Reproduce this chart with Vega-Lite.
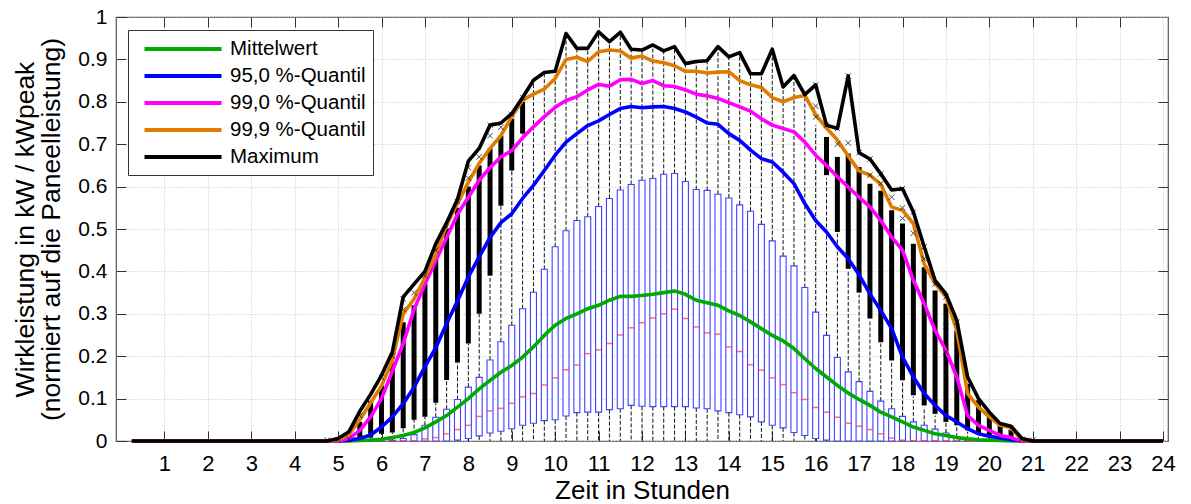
{
  "$schema": "https://vega.github.io/schema/vega-lite/v6.json",
  "width": 1052,
  "height": 424,
  "autosize": {"type": "none"},
  "padding": {"left": 116, "top": 17, "right": 23, "bottom": 63},
  "background": "white",
  "config": {
    "font": "Liberation Sans",
    "view": {"stroke": "#555555", "strokeWidth": 1.2},
    "axis": {
      "labelFont": "Liberation Sans",
      "titleFont": "Liberation Sans",
      "labelColor": "#000000",
      "titleColor": "#000000",
      "titleFontWeight": "normal",
      "domain": false,
      "tickColor": "#333333",
      "tickWidth": 1,
      "gridColor": "#c4c4c4",
      "gridDash": [1, 2],
      "gridWidth": 1
    },
    "legend": {"labelFont": "Liberation Sans"}
  },
  "datasets": {
    "kennlinien": [
      {"t": 0.25, "mittel": 0, "q950": 0, "q990": 0, "q999": 0, "qmax": 0},
      {"t": 4.75, "mittel": 0, "q950": 0, "q990": 0, "q999": 0, "qmax": 0},
      {"t": 5.0, "mittel": 0, "q950": 0, "q990": 0, "q999": 0.002, "qmax": 0.006},
      {"t": 5.25, "mittel": 0, "q950": 0.002, "q990": 0.006, "q999": 0.015, "qmax": 0.022},
      {"t": 5.5, "mittel": 0.001, "q950": 0.006, "q990": 0.025, "q999": 0.05, "qmax": 0.07},
      {"t": 5.75, "mittel": 0.002, "q950": 0.014, "q990": 0.057, "q999": 0.09, "qmax": 0.11},
      {"t": 6.0, "mittel": 0.004, "q950": 0.033, "q990": 0.1, "q999": 0.13, "qmax": 0.155},
      {"t": 6.25, "mittel": 0.008, "q950": 0.057, "q990": 0.165, "q999": 0.19, "qmax": 0.21},
      {"t": 6.5, "mittel": 0.013, "q950": 0.088, "q990": 0.23, "q999": 0.3, "qmax": 0.34},
      {"t": 6.75, "mittel": 0.02, "q950": 0.127, "q990": 0.31, "q999": 0.335, "qmax": 0.37},
      {"t": 7.0, "mittel": 0.031, "q950": 0.175, "q990": 0.37, "q999": 0.385, "qmax": 0.4},
      {"t": 7.25, "mittel": 0.045, "q950": 0.22, "q990": 0.425, "q999": 0.44, "qmax": 0.465},
      {"t": 7.5, "mittel": 0.06, "q950": 0.277, "q990": 0.48, "q999": 0.51, "qmax": 0.515},
      {"t": 7.75, "mittel": 0.08, "q950": 0.33, "q990": 0.535, "q999": 0.56, "qmax": 0.57},
      {"t": 8.0, "mittel": 0.1, "q950": 0.387, "q990": 0.575, "q999": 0.61, "qmax": 0.66},
      {"t": 8.25, "mittel": 0.123, "q950": 0.434, "q990": 0.615, "q999": 0.655, "qmax": 0.69},
      {"t": 8.5, "mittel": 0.143, "q950": 0.48, "q990": 0.645, "q999": 0.69, "qmax": 0.745},
      {"t": 8.75, "mittel": 0.162, "q950": 0.515, "q990": 0.67, "q999": 0.72, "qmax": 0.75},
      {"t": 9.0, "mittel": 0.178, "q950": 0.536, "q990": 0.685, "q999": 0.765, "qmax": 0.772},
      {"t": 9.25, "mittel": 0.198, "q950": 0.572, "q990": 0.715, "q999": 0.804, "qmax": 0.81},
      {"t": 9.5, "mittel": 0.222, "q950": 0.603, "q990": 0.741, "q999": 0.818, "qmax": 0.851},
      {"t": 9.75, "mittel": 0.249, "q950": 0.638, "q990": 0.765, "q999": 0.83, "qmax": 0.869},
      {"t": 10.0, "mittel": 0.273, "q950": 0.674, "q990": 0.787, "q999": 0.855, "qmax": 0.872},
      {"t": 10.25, "mittel": 0.289, "q950": 0.705, "q990": 0.803, "q999": 0.9, "qmax": 0.961},
      {"t": 10.5, "mittel": 0.3, "q950": 0.725, "q990": 0.812, "q999": 0.905, "qmax": 0.926},
      {"t": 10.75, "mittel": 0.312, "q950": 0.744, "q990": 0.828, "q999": 0.895, "qmax": 0.926},
      {"t": 11.0, "mittel": 0.32, "q950": 0.755, "q990": 0.841, "q999": 0.918, "qmax": 0.965},
      {"t": 11.25, "mittel": 0.332, "q950": 0.77, "q990": 0.837, "q999": 0.922, "qmax": 0.942},
      {"t": 11.5, "mittel": 0.341, "q950": 0.784, "q990": 0.852, "q999": 0.92, "qmax": 0.964},
      {"t": 11.75, "mittel": 0.341, "q950": 0.789, "q990": 0.853, "q999": 0.903, "qmax": 0.924},
      {"t": 12.0, "mittel": 0.343, "q950": 0.786, "q990": 0.843, "q999": 0.908, "qmax": 0.922},
      {"t": 12.25, "mittel": 0.346, "q950": 0.788, "q990": 0.85, "q999": 0.896, "qmax": 0.934},
      {"t": 12.5, "mittel": 0.35, "q950": 0.789, "q990": 0.838, "q999": 0.892, "qmax": 0.92},
      {"t": 12.75, "mittel": 0.354, "q950": 0.784, "q990": 0.836, "q999": 0.885, "qmax": 0.93},
      {"t": 13.0, "mittel": 0.346, "q950": 0.776, "q990": 0.828, "q999": 0.872, "qmax": 0.89},
      {"t": 13.25, "mittel": 0.332, "q950": 0.764, "q990": 0.818, "q999": 0.872, "qmax": 0.895},
      {"t": 13.5, "mittel": 0.326, "q950": 0.75, "q990": 0.814, "q999": 0.868, "qmax": 0.897},
      {"t": 13.75, "mittel": 0.32, "q950": 0.747, "q990": 0.808, "q999": 0.87, "qmax": 0.93},
      {"t": 14.0, "mittel": 0.307, "q950": 0.725, "q990": 0.798, "q999": 0.871, "qmax": 0.906},
      {"t": 14.25, "mittel": 0.296, "q950": 0.709, "q990": 0.788, "q999": 0.85, "qmax": 0.916},
      {"t": 14.5, "mittel": 0.281, "q950": 0.686, "q990": 0.778, "q999": 0.84, "qmax": 0.866},
      {"t": 14.75, "mittel": 0.265, "q950": 0.666, "q990": 0.76, "q999": 0.834, "qmax": 0.866},
      {"t": 15.0, "mittel": 0.249, "q950": 0.658, "q990": 0.745, "q999": 0.81, "qmax": 0.924},
      {"t": 15.25, "mittel": 0.236, "q950": 0.634, "q990": 0.737, "q999": 0.8, "qmax": 0.835},
      {"t": 15.5, "mittel": 0.218, "q950": 0.607, "q990": 0.729, "q999": 0.81, "qmax": 0.862},
      {"t": 15.75, "mittel": 0.194, "q950": 0.56, "q990": 0.705, "q999": 0.815, "qmax": 0.817},
      {"t": 16.0, "mittel": 0.171, "q950": 0.52, "q990": 0.674, "q999": 0.77, "qmax": 0.84},
      {"t": 16.25, "mittel": 0.151, "q950": 0.493, "q990": 0.65, "q999": 0.738, "qmax": 0.745},
      {"t": 16.5, "mittel": 0.131, "q950": 0.458, "q990": 0.623, "q999": 0.71, "qmax": 0.737},
      {"t": 16.75, "mittel": 0.113, "q950": 0.43, "q990": 0.599, "q999": 0.672, "qmax": 0.861},
      {"t": 17.0, "mittel": 0.098, "q950": 0.392, "q990": 0.575, "q999": 0.637, "qmax": 0.68},
      {"t": 17.25, "mittel": 0.084, "q950": 0.347, "q990": 0.552, "q999": 0.627, "qmax": 0.665},
      {"t": 17.5, "mittel": 0.068, "q950": 0.308, "q990": 0.52, "q999": 0.605, "qmax": 0.63},
      {"t": 17.75, "mittel": 0.057, "q950": 0.265, "q990": 0.481, "q999": 0.552, "qmax": 0.592},
      {"t": 18.0, "mittel": 0.045, "q950": 0.198, "q990": 0.45, "q999": 0.544, "qmax": 0.595},
      {"t": 18.25, "mittel": 0.033, "q950": 0.151, "q990": 0.379, "q999": 0.513, "qmax": 0.54},
      {"t": 18.5, "mittel": 0.025, "q950": 0.112, "q990": 0.324, "q999": 0.418, "qmax": 0.458},
      {"t": 18.75, "mittel": 0.017, "q950": 0.084, "q990": 0.261, "q999": 0.371, "qmax": 0.379},
      {"t": 19.0, "mittel": 0.013, "q950": 0.06, "q990": 0.214, "q999": 0.34, "qmax": 0.347},
      {"t": 19.25, "mittel": 0.008, "q950": 0.045, "q990": 0.151, "q999": 0.261, "qmax": 0.285},
      {"t": 19.5, "mittel": 0.005, "q950": 0.029, "q990": 0.06, "q999": 0.112, "qmax": 0.151},
      {"t": 19.75, "mittel": 0.003, "q950": 0.017, "q990": 0.037, "q999": 0.08, "qmax": 0.1},
      {"t": 20.0, "mittel": 0.002, "q950": 0.011, "q990": 0.025, "q999": 0.057, "qmax": 0.068},
      {"t": 20.25, "mittel": 0.001, "q950": 0.007, "q990": 0.013, "q999": 0.037, "qmax": 0.041},
      {"t": 20.5, "mittel": 0, "q950": 0.003, "q990": 0.008, "q999": 0.031, "qmax": 0.035},
      {"t": 20.75, "mittel": 0, "q950": 0, "q990": 0, "q999": 0.003, "qmax": 0.006},
      {"t": 21.0, "mittel": 0, "q950": 0, "q990": 0, "q999": 0, "qmax": 0},
      {"t": 24.0, "mittel": 0, "q950": 0, "q990": 0, "q999": 0, "qmax": 0}
    ],
    "boxen": [
      {"t": 5.5, "lo": 0, "med": 0, "hi": 0, "wh": 0.005, "ol": 0.005, "oh": 0.045},
      {"t": 5.75, "lo": 0, "med": 0, "hi": 0, "wh": 0.008, "ol": 0.008, "oh": 0.095},
      {"t": 6.0, "lo": 0, "med": 0, "hi": 0, "wh": 0.017, "ol": 0.017, "oh": 0.13},
      {"t": 6.25, "lo": 0, "med": 0, "hi": 0.002, "wh": 0.02, "ol": 0.02, "oh": 0.185},
      {"t": 6.5, "lo": 0, "med": 0, "hi": 0.006, "wh": 0.03, "ol": 0.03, "oh": 0.28},
      {"t": 6.75, "lo": 0, "med": 0, "hi": 0.015, "wh": 0.05, "ol": 0.05, "oh": 0.32},
      {"t": 7.0, "lo": 0, "med": 0.005, "hi": 0.037, "wh": 0.057, "ol": 0.057, "oh": 0.37},
      {"t": 7.25, "lo": 0, "med": 0.008, "hi": 0.056, "wh": 0.09, "ol": 0.09, "oh": 0.43},
      {"t": 7.5, "lo": 0, "med": 0.017, "hi": 0.075, "wh": 0.144, "ol": 0.144, "oh": 0.5},
      {"t": 7.75, "lo": 0.002, "med": 0.027, "hi": 0.098, "wh": 0.185, "ol": 0.185, "oh": 0.55},
      {"t": 8.0, "lo": 0.006, "med": 0.037, "hi": 0.127, "wh": 0.23, "ol": 0.23, "oh": 0.6},
      {"t": 8.25, "lo": 0.012, "med": 0.058, "hi": 0.15, "wh": 0.3, "ol": 0.3, "oh": 0.65},
      {"t": 8.5, "lo": 0.019, "med": 0.071, "hi": 0.191, "wh": 0.39, "ol": 0.39, "oh": 0.69},
      {"t": 8.75, "lo": 0.023, "med": 0.077, "hi": 0.234, "wh": 0.555, "ol": 0.555, "oh": 0.72},
      {"t": 9.0, "lo": 0.029, "med": 0.089, "hi": 0.273, "wh": 0.638, "ol": 0.638, "oh": 0.76},
      {"t": 9.25, "lo": 0.037, "med": 0.104, "hi": 0.312, "wh": 0.725, "ol": 0.725, "oh": 0.8},
      {"t": 9.5, "lo": 0.042, "med": 0.112, "hi": 0.351, "wh": 0.851},
      {"t": 9.75, "lo": 0.048, "med": 0.132, "hi": 0.405, "wh": 0.869},
      {"t": 10.0, "lo": 0.05, "med": 0.149, "hi": 0.458, "wh": 0.872},
      {"t": 10.25, "lo": 0.059, "med": 0.168, "hi": 0.496, "wh": 0.961},
      {"t": 10.5, "lo": 0.067, "med": 0.179, "hi": 0.52, "wh": 0.926},
      {"t": 10.75, "lo": 0.068, "med": 0.206, "hi": 0.529, "wh": 0.926},
      {"t": 11.0, "lo": 0.068, "med": 0.215, "hi": 0.553, "wh": 0.965},
      {"t": 11.25, "lo": 0.074, "med": 0.23, "hi": 0.572, "wh": 0.942},
      {"t": 11.5, "lo": 0.076, "med": 0.25, "hi": 0.592, "wh": 0.964},
      {"t": 11.75, "lo": 0.084, "med": 0.267, "hi": 0.605, "wh": 0.924},
      {"t": 12.0, "lo": 0.082, "med": 0.279, "hi": 0.615, "wh": 0.922},
      {"t": 12.25, "lo": 0.081, "med": 0.29, "hi": 0.619, "wh": 0.934},
      {"t": 12.5, "lo": 0.081, "med": 0.3, "hi": 0.629, "wh": 0.92},
      {"t": 12.75, "lo": 0.081, "med": 0.311, "hi": 0.631, "wh": 0.93},
      {"t": 13.0, "lo": 0.081, "med": 0.289, "hi": 0.612, "wh": 0.89},
      {"t": 13.25, "lo": 0.078, "med": 0.269, "hi": 0.593, "wh": 0.895},
      {"t": 13.5, "lo": 0.076, "med": 0.255, "hi": 0.591, "wh": 0.897},
      {"t": 13.75, "lo": 0.071, "med": 0.252, "hi": 0.582, "wh": 0.93},
      {"t": 14.0, "lo": 0.067, "med": 0.222, "hi": 0.573, "wh": 0.906},
      {"t": 14.25, "lo": 0.062, "med": 0.211, "hi": 0.557, "wh": 0.916},
      {"t": 14.5, "lo": 0.057, "med": 0.18, "hi": 0.542, "wh": 0.866},
      {"t": 14.75, "lo": 0.045, "med": 0.167, "hi": 0.511, "wh": 0.866},
      {"t": 15.0, "lo": 0.037, "med": 0.149, "hi": 0.472, "wh": 0.924},
      {"t": 15.25, "lo": 0.031, "med": 0.133, "hi": 0.436, "wh": 0.835},
      {"t": 15.5, "lo": 0.02, "med": 0.114, "hi": 0.413, "wh": 0.862},
      {"t": 15.75, "lo": 0.013, "med": 0.098, "hi": 0.362, "wh": 0.817},
      {"t": 16.0, "lo": 0.006, "med": 0.079, "hi": 0.304, "wh": 0.745},
      {"t": 16.25, "lo": 0.002, "med": 0.068, "hi": 0.249, "wh": 0.62, "ol": 0.627, "oh": 0.717},
      {"t": 16.5, "lo": 0, "med": 0.056, "hi": 0.197, "wh": 0.49, "ol": 0.493, "oh": 0.67},
      {"t": 16.75, "lo": 0, "med": 0.042, "hi": 0.163, "wh": 0.4, "ol": 0.406, "oh": 0.678},
      {"t": 17.0, "lo": 0, "med": 0.035, "hi": 0.14, "wh": 0.345, "ol": 0.35, "oh": 0.646},
      {"t": 17.25, "lo": 0, "med": 0.027, "hi": 0.117, "wh": 0.285, "ol": 0.289, "oh": 0.607},
      {"t": 17.5, "lo": 0, "med": 0.017, "hi": 0.094, "wh": 0.23, "ol": 0.233, "oh": 0.59},
      {"t": 17.75, "lo": 0, "med": 0.007, "hi": 0.076, "wh": 0.185, "ol": 0.19, "oh": 0.544},
      {"t": 18.0, "lo": 0, "med": 0.002, "hi": 0.058, "wh": 0.14, "ol": 0.143, "oh": 0.513},
      {"t": 18.25, "lo": 0, "med": 0, "hi": 0.045, "wh": 0.105, "ol": 0.108, "oh": 0.465},
      {"t": 18.5, "lo": 0, "med": 0, "hi": 0.037, "wh": 0.08, "ol": 0.084, "oh": 0.41},
      {"t": 18.75, "lo": 0, "med": 0, "hi": 0.028, "wh": 0.06, "ol": 0.064, "oh": 0.355},
      {"t": 19.0, "lo": 0, "med": 0, "hi": 0.019, "wh": 0.043, "ol": 0.045, "oh": 0.324},
      {"t": 19.25, "lo": 0, "med": 0, "hi": 0.009, "wh": 0.035, "ol": 0.037, "oh": 0.26},
      {"t": 19.5, "lo": 0, "med": 0, "hi": 0.003, "wh": 0.022, "ol": 0.025, "oh": 0.135},
      {"t": 19.75, "lo": 0, "med": 0, "hi": 0, "wh": 0.015, "ol": 0.017, "oh": 0.096},
      {"t": 20.0, "lo": 0, "med": 0, "hi": 0, "wh": 0.01, "ol": 0.011, "oh": 0.06},
      {"t": 20.25, "lo": 0, "med": 0, "hi": 0, "wh": 0.007, "ol": 0.008, "oh": 0.037},
      {"t": 20.5, "lo": 0, "med": 0, "hi": 0, "wh": 0.004, "ol": 0.005, "oh": 0.025},
      {"t": 20.75, "lo": 0, "med": 0, "hi": 0, "wh": 0.002, "ol": 0.002, "oh": 0.006}
    ],
    "ausreisser": [
      {"t": 4.75, "v": 0.002}, {"t": 5.0, "v": 0.003}, {"t": 5.25, "v": 0.004},
      {"t": 5.5, "v": 0.06}, {"t": 6.0, "v": 0.15}, {"t": 6.25, "v": 0.2},
      {"t": 6.5, "v": 0.31}, {"t": 6.5, "v": 0.335}, {"t": 6.75, "v": 0.35},
      {"t": 7.0, "v": 0.39}, {"t": 7.25, "v": 0.45}, {"t": 7.5, "v": 0.505},
      {"t": 7.75, "v": 0.565}, {"t": 8.0, "v": 0.62}, {"t": 8.0, "v": 0.645},
      {"t": 8.25, "v": 0.67}, {"t": 8.5, "v": 0.72}, {"t": 8.5, "v": 0.745},
      {"t": 8.75, "v": 0.74}, {"t": 9.0, "v": 0.77}, {"t": 9.25, "v": 0.81},
      {"t": 16.0, "v": 0.764}, {"t": 16.0, "v": 0.79}, {"t": 16.0, "v": 0.84},
      {"t": 16.25, "v": 0.745}, {"t": 16.5, "v": 0.7}, {"t": 16.5, "v": 0.737},
      {"t": 16.75, "v": 0.703}, {"t": 16.75, "v": 0.861}, {"t": 17.0, "v": 0.68},
      {"t": 17.25, "v": 0.627}, {"t": 17.25, "v": 0.665}, {"t": 17.5, "v": 0.607},
      {"t": 17.5, "v": 0.63}, {"t": 17.75, "v": 0.575}, {"t": 18.0, "v": 0.525},
      {"t": 18.0, "v": 0.55}, {"t": 18.0, "v": 0.595}, {"t": 18.25, "v": 0.49},
      {"t": 18.25, "v": 0.54}, {"t": 18.5, "v": 0.43}, {"t": 18.5, "v": 0.458},
      {"t": 18.75, "v": 0.37}, {"t": 19.0, "v": 0.21}, {"t": 19.0, "v": 0.27},
      {"t": 19.0, "v": 0.34}, {"t": 19.25, "v": 0.28}, {"t": 20.5, "v": 0.03},
      {"t": 20.75, "v": 0.004}, {"t": 21.0, "v": 0.002}
    ]
  },
  "layer": [
    {
      "encoding": {
        "x": {
          "field": "t",
          "type": "quantitative",
          "scale": {"domain": [0, 24], "nice": false, "zero": false},
          "axis": {
            "orient": "bottom",
            "values": [1, 2, 3, 4, 5, 6, 7, 8, 9, 10, 11, 12, 13, 14, 15, 16, 17, 18, 19, 20, 21, 22, 23, 24],
            "tickSize": -10,
            "labelPadding": 22,
            "labelFontSize": 22,
            "labelFlush": false,
            "labelOverlap": false,
            "grid": true,
            "title": "Zeit in Stunden",
            "titleFontSize": 26,
            "titlePadding": 3
          }
        }
      },
      "layer": [
        {
          "data": {"name": "boxen"},
          "mark": {"type": "rule", "color": "#111111", "strokeWidth": 1, "strokeDash": [4, 2]},
          "encoding": {
            "y": {
              "field": "lo",
              "type": "quantitative",
              "scale": {"domain": [0, 1], "nice": false},
              "axis": {
                "orient": "left",
                "values": [0, 0.1, 0.2, 0.3, 0.4, 0.5, 0.6, 0.7, 0.8, 0.9, 1],
                "format": ".1~f",
                "tickSize": -10,
                "labelPadding": 19,
                "labelFontSize": 21,
                "grid": true,
                "title": ["Wirkleistung in kW / kWpeak", "(normiert auf die Paneelleistung)"],
                "titleFontSize": 26.5,
                "titleLineHeight": 26,
                "titlePadding": 12
              }
            },
            "y2": {"datum": 0}
          }
        },
        {
          "data": {"name": "boxen"},
          "mark": {"type": "rule", "color": "#111111", "strokeWidth": 1, "strokeDash": [4, 2]},
          "encoding": {
            "y": {"field": "hi", "type": "quantitative"},
            "y2": {"field": "wh"}
          }
        },
        {
          "data": {"name": "boxen"},
          "mark": {"type": "bar", "size": 6, "fill": "white", "stroke": "#4040ff", "strokeWidth": 1.1},
          "encoding": {
            "y": {"field": "lo", "type": "quantitative"},
            "y2": {"field": "hi"}
          }
        },
        {
          "data": {"name": "boxen"},
          "mark": {"type": "tick", "orient": "horizontal", "size": 6, "thickness": 1.5, "color": "#ff3030"},
          "encoding": {
            "y": {"field": "med", "type": "quantitative"}
          }
        },
        {
          "data": {"name": "boxen"},
          "mark": {"type": "rule", "color": "#000000", "strokeWidth": 5},
          "encoding": {
            "y": {"field": "ol", "type": "quantitative"},
            "y2": {"field": "oh"}
          }
        },
        {
          "data": {"name": "kennlinien"},
          "transform": [
            {"fold": ["mittel", "q950", "q990", "q999", "qmax"], "as": ["kurve", "wert"]}
          ],
          "mark": {"type": "line", "strokeWidth": 3.6, "strokeJoin": "round"},
          "encoding": {
            "y": {"field": "wert", "type": "quantitative"},
            "color": {
              "field": "kurve",
              "type": "nominal",
              "scale": {
                "domain": ["mittel", "q950", "q990", "q999", "qmax"],
                "range": ["#00aa00", "#0000ff", "#ff00ff", "#df7c00", "#000000"]
              },
              "legend": {
                "orient": "none",
                "legendX": 12,
                "legendY": 13,
                "title": null,
                "labelExpr": "datum.label == 'mittel' ? 'Mittelwert' : datum.label == 'q950' ? '95,0 %-Quantil' : datum.label == 'q990' ? '99,0 %-Quantil' : datum.label == 'q999' ? '99,9 %-Quantil' : 'Maximum'",
                "symbolType": "M-3.85,0H3.85",
                "symbolSize": 400,
                "symbolStrokeWidth": 4,
                "symbolOffset": 36,
                "labelFontSize": 20.5,
                "labelColor": "#000000",
                "labelOffset": 35,
                "labelLimit": 300,
                "rowPadding": 4,
                "padding": 7,
                "strokeColor": "#333333",
                "fillColor": "white"
              }
            }
          }
        }
      ]
    },
    {
      "data": {"name": "ausreisser"},
      "mark": {"type": "point", "shape": "M-1,-1L1,1M1,-1L-1,1", "size": 30, "filled": false, "stroke": "#000000", "strokeWidth": 1},
      "encoding": {
        "x": {
          "field": "t",
          "type": "quantitative",
          "axis": {
            "orient": "top",
            "values": [1, 2, 3, 4, 5, 6, 7, 8, 9, 10, 11, 12, 13, 14, 15, 16, 17, 18, 19, 20, 21, 22, 23],
            "tickSize": -10,
            "labels": false,
            "grid": false,
            "title": null
          }
        },
        "y": {
          "field": "v",
          "type": "quantitative",
          "axis": {
            "orient": "right",
            "values": [0.1, 0.2, 0.3, 0.4, 0.5, 0.6, 0.7, 0.8, 0.9],
            "tickSize": -10,
            "labels": false,
            "grid": false,
            "title": null
          }
        }
      }
    }
  ],
  "resolve": {"axis": {"x": "independent", "y": "independent"}}
}
